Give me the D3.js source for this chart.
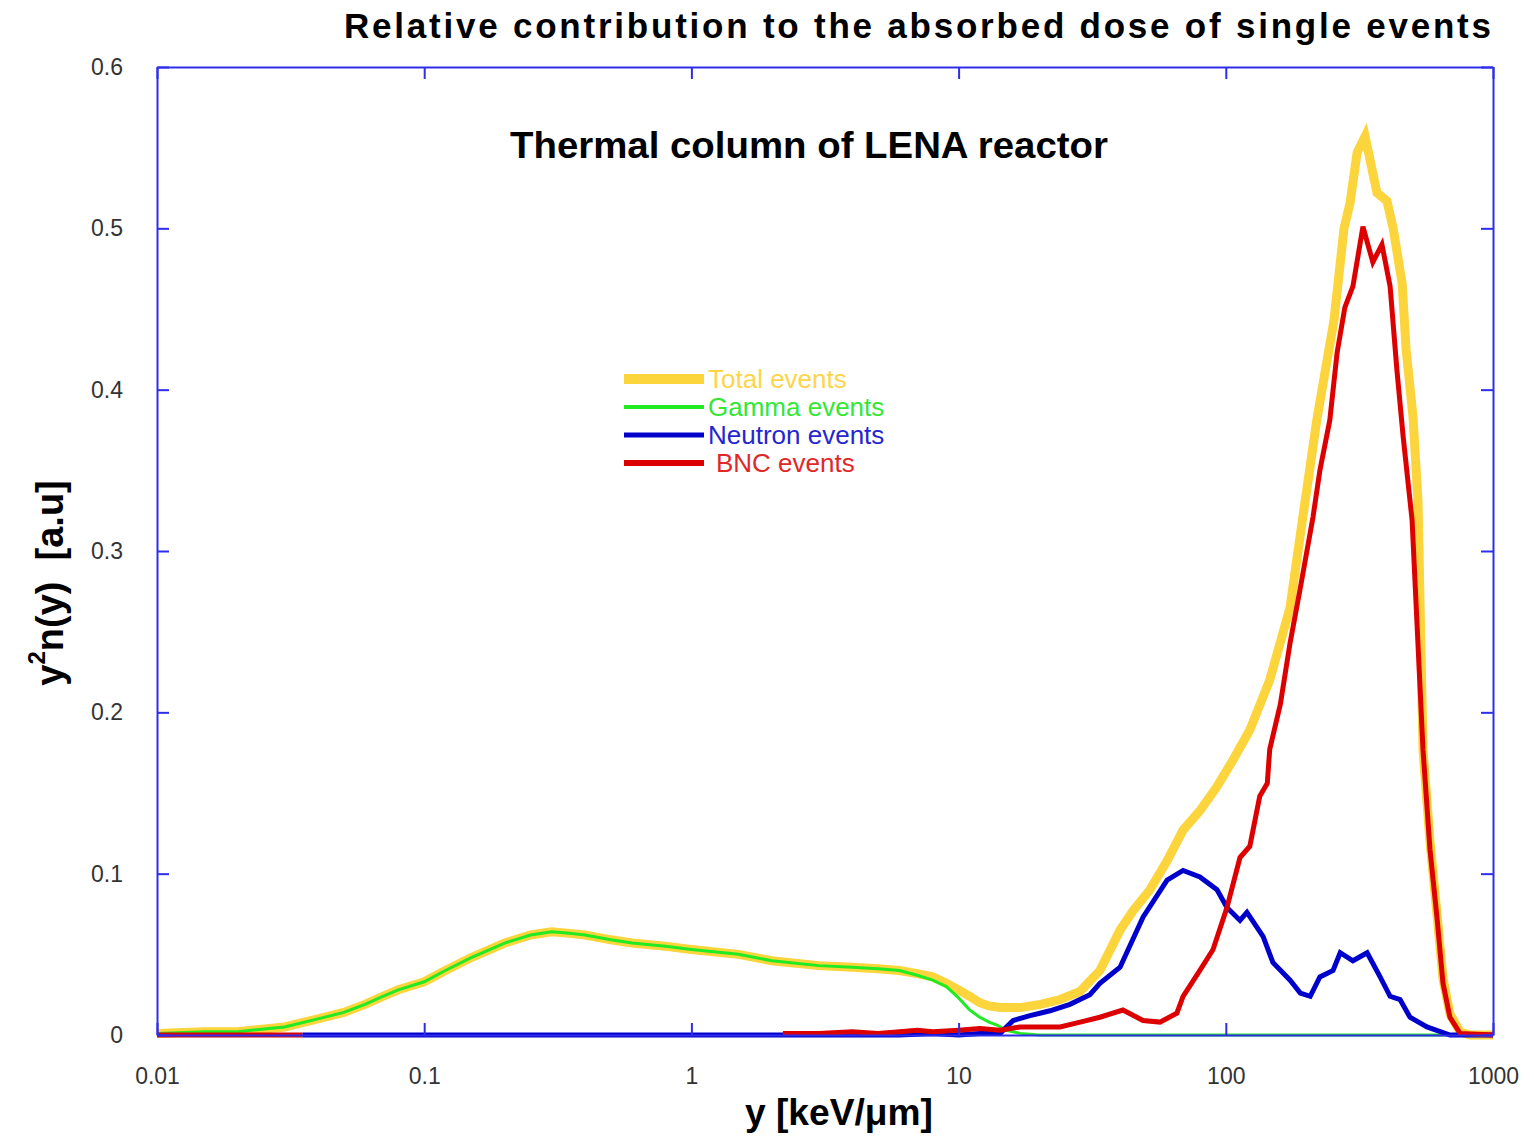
<!DOCTYPE html>
<html>
<head>
<meta charset="utf-8">
<script src="https://cdn.jsdelivr.net/npm/d3@7"></script>
<style>
  html, body { margin: 0; padding: 0; background: #fff; }
  svg { display: block; }
  text { font-family: "Liberation Sans", Arial, Helvetica, sans-serif; }
</style>
</head>
<body>
<svg id="chart" width="1534" height="1136"></svg>
<script>
// ---------------- data ----------------
const xTicks = [0.01, 0.1, 1, 10, 100, 1000];
const xTickLabels = ["0.01", "0.1", "1", "10", "100", "1000"];
const yTicks = [0, 0.1, 0.2, 0.3, 0.4, 0.5, 0.6];
const yTickLabels = ["0", "0.1", "0.2", "0.3", "0.4", "0.5", "0.6"];

// Gamma events
const gammaX = [0.01,0.015,0.02,0.03,0.04,0.05,0.06,0.07,0.08,0.1,0.12,0.15,0.2,0.25,0.3,0.35,0.4,0.5,0.6,0.7,0.8,1,1.5,2,3,4,5,6,7,8,9,10,11,12,13,14,15,17,20,50,100,1000];
const gammaY = [0.001,0.002,0.002,0.005,0.010,0.014,0.019,0.024,0.028,0.033,0.040,0.048,0.057,0.062,0.064,0.063,0.062,0.059,0.057,0.056,0.055,0.053,0.050,0.046,0.043,0.042,0.041,0.040,0.037,0.034,0.030,0.023,0.0155,0.011,0.008,0.006,0.003,0.001,0,0,0,0];

// Total events
const totalX = [0.01,0.015,0.02,0.03,0.04,0.05,0.06,0.07,0.08,0.1,0.12,0.15,0.2,0.25,0.3,0.35,0.4,0.5,0.6,0.7,0.8,1,1.5,2,3,4,5,6,7,8,9,10,11,12,13,14.3,17,20.2,24,28.5,33.8,40.2,45,52,60.3,69.2,80,92.7,106,123,146,174,190,219,254,277,292,310,332,368,401,423,457,473,502,524,547,581,617,650,690,753,820,1000];
const totalY = [0.001,0.002,0.002,0.005,0.010,0.014,0.019,0.024,0.028,0.033,0.040,0.048,0.057,0.062,0.064,0.063,0.062,0.059,0.057,0.056,0.055,0.053,0.050,0.046,0.043,0.042,0.041,0.040,0.038,0.036,0.032,0.028,0.024,0.020,0.018,0.017,0.017,0.019,0.022,0.027,0.040,0.065,0.077,0.090,0.108,0.127,0.139,0.154,0.170,0.189,0.220,0.265,0.310,0.381,0.443,0.500,0.516,0.547,0.557,0.522,0.517,0.500,0.466,0.425,0.383,0.331,0.177,0.120,0.075,0.035,0.013,0.002,0,0];

// Neutron events
const neutronX = [0.035,1,6,8,10,12,14.3,16,18.5,22,26.1,31,33.8,40.2,49,60.3,69.2,80,92.7,101,113,120,138,150,174,190,207,225,252,268,299,338,378,412,449,489,566,690,1000];
const neutronY = [0,0,0,0.001,0,0.001,0.001,0.009,0.012,0.015,0.019,0.025,0.032,0.042,0.073,0.096,0.102,0.098,0.090,0.079,0.071,0.076,0.061,0.045,0.034,0.026,0.024,0.036,0.040,0.051,0.046,0.051,0.036,0.024,0.022,0.011,0.005,0,0];

// BNC events (null = no data)
const bncX = [0.01,0.035,0.04,2.2,3,4,5,6,7,8,10,12,14.3,17,20,24,28.5,33.8,41.2,49,56.7,65.6,69.2,80,89.6,101,113,123,134,143,146,160,174,190,212,225,245,261,279,299,326,355,384,412,437,461,498,547,581,617,650,690,753,1000];
const bncY = [0,0,null,0.001,0.001,0.002,0.001,0.002,0.003,0.002,0.003,0.004,0.003,0.005,0.005,0.005,0.008,0.011,0.0155,0.009,0.008,0.0135,0.024,0.040,0.053,0.079,0.110,0.117,0.148,0.156,0.177,0.205,0.243,0.277,0.321,0.350,0.381,0.423,0.451,0.464,0.501,0.479,0.490,0.464,0.412,0.371,0.319,0.177,0.115,0.073,0.032,0.011,0.001,0];

const seriesNames = ["Total events", "Gamma events", "Neutron events", "BNC events"];

// ---------------- layout ----------------
const svg = d3.select("#chart");
const pLeft = 157, pRight = 1493, pTop = 67, pBottom = 1035;
const axisColor = "#2e2eea";

const x = d3.scaleLog().domain([0.01, 1000]).range([pLeft, pRight]);
const y = d3.scaleLinear().domain([0, 0.6]).range([pBottom, pTop]);

const zip = (xs, ys) => xs.map((v, i) => [v, ys[i]]);

const line = d3.line()
  .defined(d => d[1] !== null)
  .x(d => x(d[0]))
  .y(d => y(d[1]));

const series = [
  { name: seriesNames[0], data: zip(totalX, totalY), color: "#fcd43c", width: 9, text: "#fdd54a", lw: 10 },
  { name: seriesNames[1], data: zip(gammaX, gammaY), color: "#22ea22", width: 3, text: "#33e833", lw: 4 },
  { name: seriesNames[2], data: zip(neutronX, neutronY), color: "#0000cc", width: 5, text: "#2626d0", lw: 5 },
  { name: seriesNames[3], data: zip(bncX, bncY), color: "#dd0000", width: 5, text: "#e02828", lw: 6 }
];

function styleAxis(g) {
  g.selectAll(".domain").attr("stroke", axisColor).attr("stroke-width", 2);
  g.selectAll(".tick line").attr("stroke", axisColor).attr("stroke-width", 2);
  g.selectAll(".tick text").attr("fill", "#333").attr("font-size", 23)
    .attr("font-family", "'Liberation Sans', Arial, sans-serif");
}

// curves (clipped to plot area)
svg.append("defs").append("clipPath").attr("id", "clip")
  .append("rect").attr("x", pLeft - 6).attr("y", pTop).attr("width", pRight - pLeft + 12).attr("height", pBottom - pTop + 6);

const plot = svg.append("g").attr("clip-path", "url(#clip)");
series.forEach(s => {
  plot.append("path")
    .datum(s.data)
    .attr("fill", "none")
    .attr("stroke", s.color)
    .attr("stroke-width", s.width)
    .attr("stroke-linejoin", "miter")
    .attr("d", line);
});

const gx = svg.append("g").attr("transform", `translate(0,${pBottom})`)
  .call(d3.axisBottom(x).tickValues(xTicks).tickFormat((d, i) => xTickLabels[i])
    .tickSizeInner(-12).tickSizeOuter(0).tickPadding(33));
styleAxis(gx);

const gxt = svg.append("g").attr("transform", `translate(0,${pTop})`)
  .call(d3.axisTop(x).tickValues(xTicks).tickFormat("").tickSizeInner(-12).tickSizeOuter(0));
styleAxis(gxt);

const gy = svg.append("g").attr("transform", `translate(${pLeft},0)`)
  .call(d3.axisLeft(y).tickValues(yTicks).tickFormat((d, i) => yTickLabels[i])
    .tickSizeInner(-12).tickSizeOuter(0).tickPadding(34));
styleAxis(gy);

const gyr = svg.append("g").attr("transform", `translate(${pRight},0)`)
  .call(d3.axisRight(y).tickValues(yTicks).tickFormat("").tickSizeInner(-12).tickSizeOuter(0));
styleAxis(gyr);

// legend
const legX1 = 624, legX2 = 704, legY0 = 379, legDy = 28;
series.forEach((s, i) => {
  const yy = legY0 + i * legDy;
  svg.append("line")
    .attr("x1", legX1).attr("x2", legX2).attr("y1", yy).attr("y2", yy)
    .attr("stroke", s.color).attr("stroke-width", s.lw);
  svg.append("text")
    .attr("x", i === 3 ? 716 : 708).attr("y", yy + 9)
    .attr("font-size", 26).attr("fill", s.text)
    .text(s.name);
});

// titles
svg.append("text")
  .attr("x", 344).attr("y", 38)
  .attr("font-size", 35).attr("font-weight", "bold").attr("fill", "#000")
  .attr("textLength", 1147).attr("lengthAdjust", "spacing")
  .text("Relative contribution to the absorbed dose of single events");

svg.append("text")
  .attr("x", 510).attr("y", 158)
  .attr("font-size", 36).attr("font-weight", "bold").attr("fill", "#000")
  .attr("textLength", 598).attr("lengthAdjust", "spacingAndGlyphs")
  .text("Thermal column of LENA reactor");

svg.append("text")
  .attr("x", 745).attr("y", 1125)
  .attr("font-size", 36).attr("font-weight", "bold").attr("fill", "#000")
  .attr("textLength", 188).attr("lengthAdjust", "spacingAndGlyphs")
  .text("y [keV/\u03bcm]");

const yl = svg.append("text")
  .attr("transform", "translate(63,583) rotate(-90)")
  .attr("text-anchor", "middle")
  .attr("font-size", 38).attr("font-weight", "bold").attr("fill", "#000");
yl.append("tspan").text("y");
yl.append("tspan").attr("font-size", 24).attr("dy", -18).text("2");
yl.append("tspan").attr("dy", 18).text("n(y)\u00a0\u00a0[a.u]");
</script>
</body>
</html>
